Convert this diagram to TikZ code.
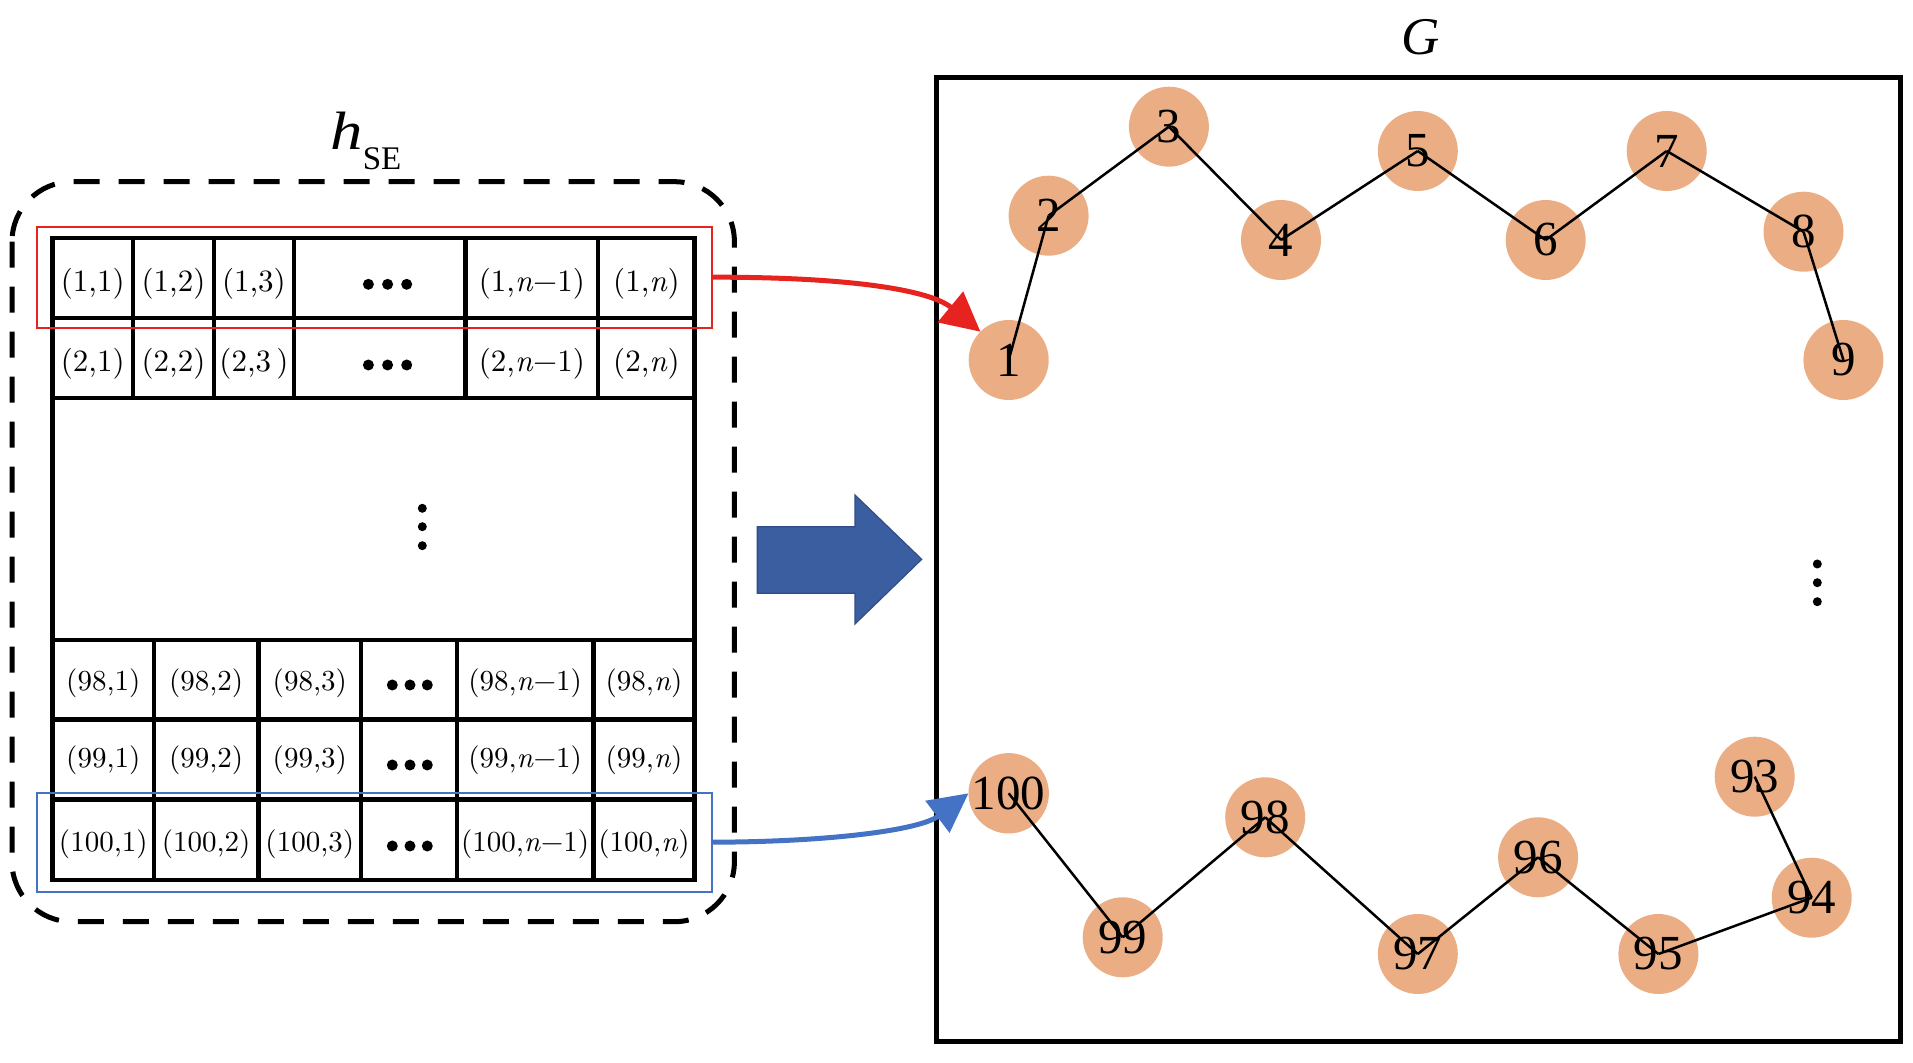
\documentclass[tikz,border=0pt]{standalone}
\usepackage{fontspec}
\newfontfamily\tms{Liberation Serif}
\newfontfamily\cellfont{lmroman10-regular.otf}[ItalicFont=lmroman10-italic.otf]
\usetikzlibrary{arrows.meta}
\definecolor{rowred}{RGB}{230,35,30}
\definecolor{rowblue}{RGB}{68,114,196}
\definecolor{bigblue}{RGB}{59,94,161}
\definecolor{bigblueedge}{RGB}{47,77,135}
\definecolor{nodefill}{RGB}{235,174,132}
\newcommand{\nvar}{\textit{n}}
\tikzset{
  gridline/.style={line width=2.25pt, line cap=rect},
  celltop/.style={anchor=base, inner sep=0pt, font=\cellfont\fontsize{15.5}{15.5}\selectfont},
  cellbot/.style={anchor=base, inner sep=0pt, font=\cellfont\fontsize{14.5}{14.5}\selectfont},
  rowbox/.style={line width=1pt, inner sep=0pt, outer sep=0pt, anchor=north west, minimum width=337.6pt},
  gnode/.style={circle, fill=nodefill, minimum size=40pt, inner sep=0pt, outer sep=0pt,
                font=\tms\fontsize{24.5}{24.5}\selectfont},
  gedge/.style={line width=1.25pt},
  linkarrow/.style={line width=2.5pt, -{Triangle[length=19.5pt,width=19.5pt]}},
  dotmark/.style={fill=black}
}
\begin{document}
\begin{tikzpicture}[x=0.5pt,y=-0.5pt]
\useasboundingbox (0,0) rectangle (1913,1063);

% dashed container
\draw[line width=2.5pt, dash pattern=on 13pt off 9.5pt, rounded corners=30pt]
  (12,181.7) rectangle (734.4,921.7);
\node[anchor=base west, inner sep=0pt] (hse) at (330,150)
  {{\tms\itshape\fontsize{27}{27}\selectfont\scalebox{1.2}[1]{h}}\raisebox{-10pt}{\tms\fontsize{16.5}{16.5}\selectfont SE}};

% table grid
\draw[gridline] (52.6,238) rectangle (694.7,880);
\foreach \y in {318,398,640,719.3,799.3}
  \draw[gridline] (52.6,\y) -- (694.7,\y);
\foreach \x in {133,213.9,293.8,465.6,598.1}
  \draw[gridline] (\x,238) -- (\x,398);
\foreach \x in {154,258.4,361.2,456.9,593.3}
  \draw[gridline] (\x,640) -- (\x,880);

% top rows text
\node[celltop] (c11) at (92.8,292) {(1,1)};
\node[celltop] (c12) at (173.5,292) {(1,2)};
\node[celltop] (c13) at (253.9,292) {(1,3)};
\node[celltop] (c1m) at (531.9,292) {(1,\nvar−1)};
\node[celltop] (c1n) at (646.4,292) {(1,\nvar)};
\node[celltop] (c21) at (92.8,372) {(2,1)};
\node[celltop] (c22) at (173.5,372) {(2,2)};
\node[celltop] (c23) at (253.9,372) {(2,3\,)};
\node[celltop] (c2m) at (531.9,372) {(2,\nvar−1)};
\node[celltop] (c2n) at (646.4,372) {(2,\nvar)};

% bottom rows text
\foreach \r/\yb in {98/691,99/768,100/851}{
  \node[cellbot] (c\r a) at (103.3,\yb) {(\r,1)};
  \node[cellbot] (c\r b) at (206.2,\yb) {(\r,2)};
  \node[cellbot] (c\r c) at (309.8,\yb) {(\r,3)};
  \node[cellbot] (c\r m) at (525.1,\yb) {(\r,\nvar−1)};
  \node[cellbot] (c\r n) at (644,\yb) {(\r,\nvar)};
}

% ellipsis dots
\foreach \y in {284.3,365}
  \foreach \x in {368.4,387.6,406.7}
    \fill[dotmark] (\x,\y) circle[radius=5.5];
\foreach \y in {685,765,846}
  \foreach \x in {392.3,410,427.3}
    \fill[dotmark] (\x,\y) circle[radius=5.5];
\foreach \y in {508.3,526.7,545.7}
  \fill[dotmark] (422.3,\y) circle[radius=4.5];
\foreach \y in {564,582.7,601.7}
  \fill[dotmark] (1817.3,\y) circle[radius=4.5];

% highlighted rows
\node[rowbox, draw=rowred, minimum height=50.5pt] (redrow) at (36.8,226.7) {};
\node[rowbox, draw=rowblue, minimum height=49.5pt] (bluerow) at (36.8,792.7) {};

% big arrow
\draw[fill=bigblue, draw=bigblueedge, line width=0.6pt]
  (757.3,526.7) -- (855,526.7) -- (855,495) -- (921.7,559.3) -- (855,624)
  -- (855,593.3) -- (757.3,593.3) -- cycle;

% graph frame
\draw[line width=2.5pt] (936,78) rectangle (1900,1041);
\node[anchor=base, inner sep=0pt] (glabel) at (1421,55)
  {\tms\itshape\fontsize{26.5}{26.5}\selectfont G};

% graph nodes
\foreach \n/\x/\y in {1/1008.7/360, 2/1048.6/215.7, 3/1168.9/126.7, 4/1281/240,
  5/1417.8/151, 6/1545.7/240, 7/1666.7/151, 8/1803.5/231.7, 9/1843.4/360,
  100/1008.7/793.3, 99/1122.7/937.3, 98/1265.2/817.3, 97/1417.8/954,
  96/1538.1/857.3, 95/1658.4/954, 94/1811.7/897.7, 93/1754.7/776.7}
  \node[gnode] (n\n) at (\x,\y) {\n};

% graph edges
\foreach \a/\b in {1/2,2/3,3/4,4/5,5/6,6/7,7/8,8/9,100/99,99/98,98/97,97/96,96/95,95/94,94/93}
  \draw[gedge] (n\a.center) -- (n\b.center);

% row-to-node connectors
\draw[linkarrow, rowred] (redrow.east) .. controls (850,277) and (930,290) .. (n1.135);
\draw[linkarrow, rowblue] (bluerow.east) .. controls (830,842) and (920,830) .. (n100.west);
\end{tikzpicture}
\end{document}
